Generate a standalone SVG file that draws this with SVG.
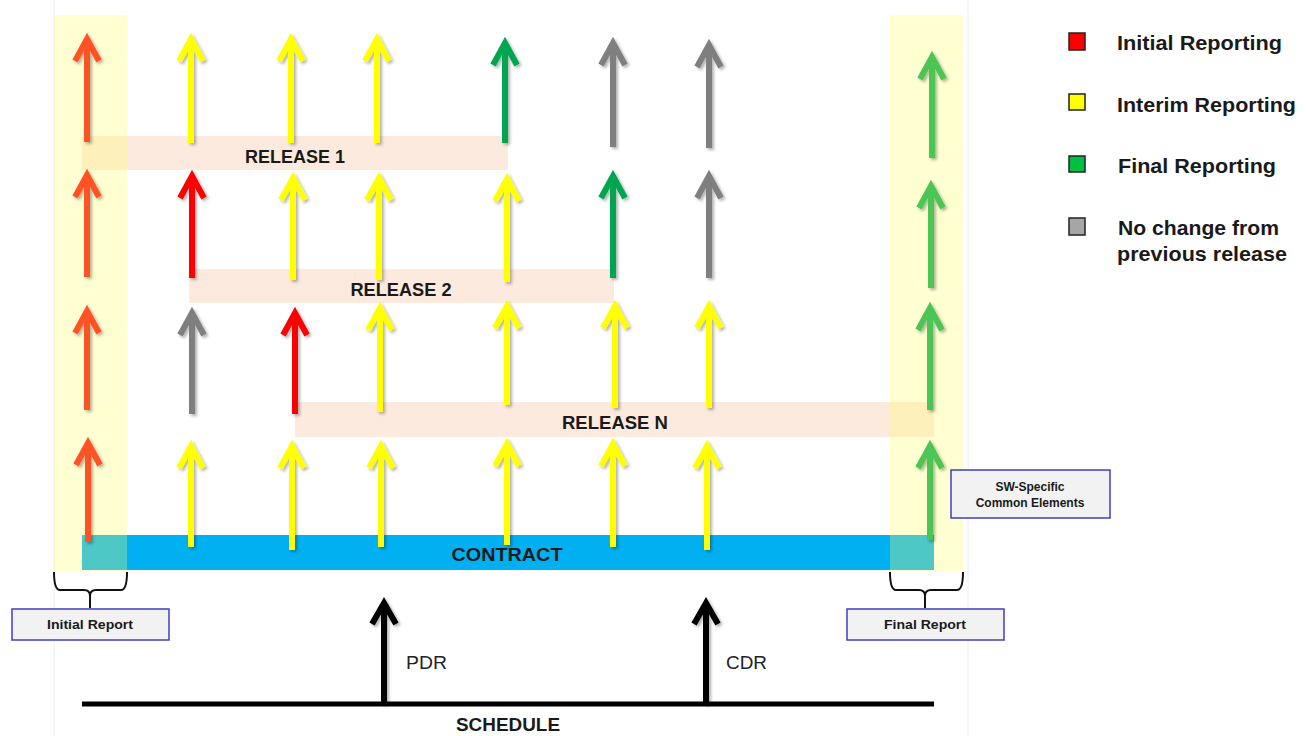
<svg xmlns="http://www.w3.org/2000/svg" width="1307" height="736" viewBox="0 0 1307 736">
<style>
.a path{fill:none;stroke-width:6;stroke-linejoin:miter;stroke-miterlimit:10}
.or path{stroke:#FF5227}.ye path{stroke:#FFFF00}.gr path{stroke:#00A64F}.gy path{stroke:#7F7F7F}.rd path{stroke:#FF0000}.lg path{stroke:#4CC552}
.lbl{font-family:"Liberation Sans",Arial,sans-serif;font-weight:bold;fill:#1a1a1a;text-anchor:middle}
.leg{font-family:"Liberation Sans",Arial,sans-serif;font-weight:bold;font-size:21px;fill:#1a1a1a}
.box rect{fill:#F2F2F2;stroke:#3F3FBF;stroke-width:1.5}
.box text{font-family:"Liberation Sans",Arial,sans-serif;font-weight:bold;font-size:12px;fill:#1a1a1a;text-anchor:middle}
.brace{fill:none;stroke:#111;stroke-width:2}
</style>
<defs>
<filter id="sh" x="-50%" y="-10%" width="200%" height="130%">
<feDropShadow dx="2" dy="2" stdDeviation="1.5" flood-color="#000" flood-opacity="0.3"/>
</filter>
</defs>
<rect width="1307" height="736" fill="#fff"/>
<line x1="54" y1="0" x2="54" y2="736" stroke="#ECECEC" stroke-width="1"/>
<line x1="968" y1="0" x2="968" y2="736" stroke="#ECECEC" stroke-width="1"/>

<g id="bands">
<rect id="release1" x="82" y="136" width="426" height="34" fill="#F8CBAD" fill-opacity="0.4"/>
<rect id="release2" x="189" y="269" width="425" height="34" fill="#F8CBAD" fill-opacity="0.4"/>
<rect id="releaseN" x="295" y="402" width="639" height="35" fill="#F8CBAD" fill-opacity="0.4"/>
<rect id="contract" x="82" y="535" width="852" height="35" fill="#00B0F0"/>
</g>
<g id="columns">
<rect id="initialCol" x="54" y="15" width="73" height="556" fill="#FFFF66" fill-opacity="0.3"/>
<rect id="finalCol" x="890" y="15" width="73" height="556" fill="#FFFF66" fill-opacity="0.3"/>
</g>
<g id="bandLabels">
<text class="lbl" x="295" y="163" font-size="19" textLength="100" lengthAdjust="spacingAndGlyphs">RELEASE 1</text>
<text class="lbl" x="401" y="296" font-size="19" textLength="101" lengthAdjust="spacingAndGlyphs">RELEASE 2</text>
<text class="lbl" x="615" y="429" font-size="19" textLength="106" lengthAdjust="spacingAndGlyphs">RELEASE N</text>
<text class="lbl" x="507" y="561" font-size="19" textLength="111" lengthAdjust="spacingAndGlyphs">CONTRACT</text>
</g>

<g id="connectors" filter="url(#sh)">
<!-- row 1 -->
<g class="a or"><path d="M87,142 V39 M75,61 L87,39 L99,61"/></g>
<g class="a ye"><path d="M191,143 V39 M179,61 L191,39 L203,61"/></g>
<g class="a ye"><path d="M291,143 V39 M279,61 L291,39 L303,61"/></g>
<g class="a ye"><path d="M377,143 V39 M365,61 L377,39 L389,61"/></g>
<g class="a gr"><path d="M505,143 V43 M493,65 L505,43 L517,65"/></g>
<g class="a gy"><path d="M613,147 V43 M601,65 L613,43 L625,65"/></g>
<g class="a gy"><path d="M709,148 V45 M697,67 L709,45 L721,67"/></g>
<g class="a lg"><path d="M932,158 V57 M920,79 L932,57 L944,79"/></g>
<!-- row 2 -->
<g class="a or"><path d="M87,277 V175 M75,197 L87,175 L99,197"/></g>
<g class="a rd"><path d="M192,278 V176 M180,198 L192,176 L204,198"/></g>
<g class="a ye"><path d="M293,280 V178 M281,200 L293,178 L305,200"/></g>
<g class="a ye"><path d="M379,280 V178 M367,200 L379,178 L391,200"/></g>
<g class="a ye"><path d="M507,282 V179 M495,201 L507,179 L519,201"/></g>
<g class="a gr"><path d="M613,278 V176 M601,198 L613,176 L625,198"/></g>
<g class="a gy"><path d="M709,278 V176 M697,198 L709,176 L721,198"/></g>
<g class="a lg"><path d="M931,288 V186 M919,208 L931,186 L943,208"/></g>
<!-- row 3 -->
<g class="a or"><path d="M87,410 V311 M75,333 L87,311 L99,333"/></g>
<g class="a gy"><path d="M192,414 V313 M180,335 L192,313 L204,335"/></g>
<g class="a rd"><path d="M295,414 V313 M283,335 L295,313 L307,335"/></g>
<g class="a ye"><path d="M380,412 V308 M368,330 L380,308 L392,330"/></g>
<g class="a ye"><path d="M507,405 V306 M495,328 L507,306 L519,328"/></g>
<g class="a ye"><path d="M615,408 V306 M603,328 L615,306 L627,328"/></g>
<g class="a ye"><path d="M709,408 V306 M697,328 L709,306 L721,328"/></g>
<g class="a lg"><path d="M930,410 V308 M918,330 L930,308 L942,330"/></g>
<!-- row 4 -->
<g class="a or"><path d="M88,542 V443 M76,465 L88,443 L100,465"/></g>
<g class="a ye"><path d="M191,547 V446 M179,468 L191,446 L203,468"/></g>
<g class="a ye"><path d="M292,550 V446 M280,468 L292,446 L304,468"/></g>
<g class="a ye"><path d="M381,547 V446 M369,468 L381,446 L393,468"/></g>
<g class="a ye"><path d="M507,545 V444 M495,466 L507,444 L519,466"/></g>
<g class="a ye"><path d="M613,547 V444 M601,466 L613,444 L625,466"/></g>
<g class="a ye"><path d="M707,550 V446 M695,468 L707,446 L719,468"/></g>
<g class="a lg"><path d="M930,540 V446 M918,468 L930,446 L942,468"/></g>
</g>

<g id="braces">
<path class="brace" d="M54,572 Q54,590 60,590 H84 Q90,590 90,596 V608 M90,596 Q90,590 96,590 H121 Q127,590 127,572"/>
<path class="brace" d="M890,572 Q890,590 896,590 H919 Q925,590 925,596 V608 M925,596 Q925,590 931,590 H957 Q963,590 963,572"/>
</g>

<g id="initialReport" class="box">
<rect x="12" y="609" width="157" height="31"/>
<text x="90" y="629" textLength="86" lengthAdjust="spacingAndGlyphs">Initial Report</text>
</g>
<g id="finalReport" class="box">
<rect x="847" y="609" width="157" height="31"/>
<text x="925" y="629" textLength="82" lengthAdjust="spacingAndGlyphs">Final Report</text>
</g>
<g id="swSpecific" class="box">
<rect x="951" y="470" width="159" height="48"/>
<text x="1030" y="491">SW-Specific</text>
<text x="1030" y="507">Common Elements</text>
</g>

<g id="schedule">
<line x1="82" y1="704" x2="934" y2="704" stroke="#000" stroke-width="5"/>
<g filter="url(#sh)">
<path d="M384,704 V603 M372,624 L384,603 L396,624" fill="none" stroke="#000" stroke-width="6"/>
<path d="M706,704 V603 M694,624 L706,603 L718,624" fill="none" stroke="#000" stroke-width="6"/>
</g>
<text x="406" y="669" font-family="Liberation Sans, Arial, sans-serif" font-size="19" fill="#222" textLength="41" lengthAdjust="spacingAndGlyphs">PDR</text>
<text x="726" y="669" font-family="Liberation Sans, Arial, sans-serif" font-size="19" fill="#222" textLength="41" lengthAdjust="spacingAndGlyphs">CDR</text>
<text class="lbl" x="508" y="731" font-size="19" textLength="104" lengthAdjust="spacingAndGlyphs">SCHEDULE</text>
</g>

<g id="legend">
<rect x="1069" y="33" width="16" height="17" fill="#FF0000" stroke="#222" stroke-width="1.5"/>
<rect x="1069" y="94" width="16" height="16" fill="#FFFF00" stroke="#222" stroke-width="1.5"/>
<rect x="1069" y="156" width="16" height="16" fill="#00C040" stroke="#222" stroke-width="1.5"/>
<rect x="1069" y="218" width="16" height="17" fill="#A6A6A6" stroke="#222" stroke-width="1.5"/>
<text class="leg" x="1117" y="50" textLength="165" lengthAdjust="spacingAndGlyphs">Initial Reporting</text>
<text class="leg" x="1117" y="112" textLength="179" lengthAdjust="spacingAndGlyphs">Interim Reporting</text>
<text class="leg" x="1118" y="173" textLength="158" lengthAdjust="spacingAndGlyphs">Final Reporting</text>
<text class="leg" x="1118" y="235" textLength="161" lengthAdjust="spacingAndGlyphs">No change from</text>
<text class="leg" x="1117" y="261" textLength="170" lengthAdjust="spacingAndGlyphs">previous release</text>
</g>
</svg>
